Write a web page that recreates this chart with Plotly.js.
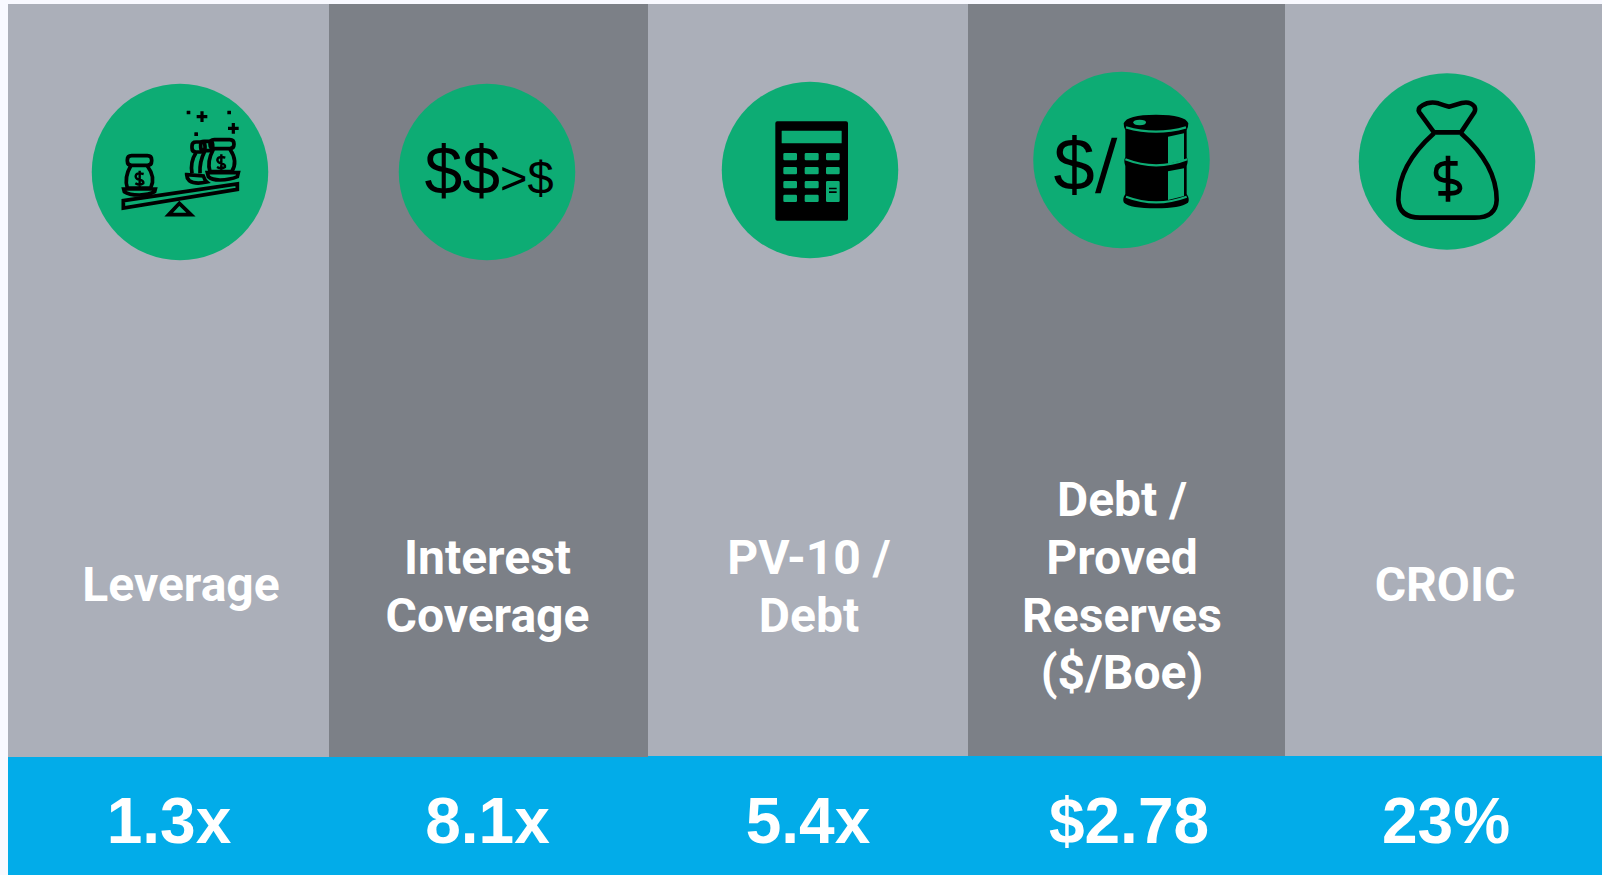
<!DOCTYPE html>
<html><head><meta charset="utf-8">
<script src="https://cdn.plot.ly/plotly-3.0.1.min.js"></script>
<style>html,body{margin:0;padding:0;background:#f8f9ff;overflow:hidden}#c{width:1602px;height:875px}</style>
</head><body><div id="c"></div>
<script>
// ---- content ----
const categoryLines = [["Leverage"],["Interest","Coverage"],["PV-10 /","Debt"],["Debt /","Proved","Reserves","($/Boe)"],["CROIC"]];
const valueLabels = ["1.3x","8.1x","5.4x","$2.78","23%"];

// ---- layout geometry ----
const edges = [8,329,648,968,1285,1602];
const panelBottoms = [757,757,756,756,756];
const labelX = [181,487.5,809,1122,1445];
const labelLineY = [[589],[561.5,619.5],[561.5,619.5],[504,561.5,619.5,676.5],[589]];
const valueX = [169,487.5,808,1129,1446];
const circleX = [180,487,810,1121.5,1447];
const circleY = [172,172,170,160,161.5];

const LIGHT='#abafb9', DARK='#7c8087', BLUE='#02ace9', GREEN='#0dac74';
const mids = edges.slice(0,-1).map((e,i)=>(e+edges[i+1])/2);
const widths = edges.slice(0,-1).map((e,i)=>edges[i+1]-e);

const lx=[],ly=[],lt=[];
categoryLines.forEach((lines,i)=>lines.forEach((s,j)=>{lx.push(labelX[i]);ly.push(labelLineY[i][j]);lt.push(s);}));

const panels = {type:'bar',x:mids,width:widths,base:mids.map(()=>4),y:panelBottoms.map(b=>b-4),
  marker:{color:[LIGHT,DARK,LIGHT,DARK,LIGHT],line:{width:0}},hoverinfo:'skip',showlegend:false};
const strip = {type:'bar',x:mids,width:widths,base:panelBottoms,y:panelBottoms.map(b=>875-b),
  marker:{color:BLUE,line:{width:0}},hoverinfo:'skip',showlegend:false};
const circles = {type:'scatter',mode:'markers',x:circleX,y:circleY,
  marker:{size:176.5,color:GREEN,line:{width:0}},hoverinfo:'skip',showlegend:false,cliponaxis:false};
const labels = {type:'scatter',mode:'text',x:lx,y:ly,text:lt,textposition:'middle center',
  textfont:{family:'Roboto',size:48,color:'#ffffff',weight:700},hoverinfo:'skip',showlegend:false,cliponaxis:false};
const values = {type:'scatter',mode:'text',x:valueX,y:valueX.map(()=>826.5),text:valueLabels,textposition:'middle center',
  textfont:{family:'Liberation Sans',size:64,color:'#ffffff',weight:700},hoverinfo:'skip',showlegend:false,cliponaxis:false};
const iconText = {type:'scatter',mode:'text',x:[489,1074],y:[175,171],
  text:['<span style="font-size:68px">$$</span><span style="font-size:47px">&gt;$</span>','$'],
  textposition:'middle center',textfont:{family:'Liberation Sans',size:74,color:'#000000'},
  hoverinfo:'skip',showlegend:false,cliponaxis:false};

// ---- icon outlines, drawn in 3x local coordinates ----
const tp=(d,ox,oy)=>d.replace(/(-?\d+\.?\d*)\s+(-?\d+\.?\d*)/g,(m,a,b)=>(ox+a/3).toFixed(2)+' '+(oy+b/3).toFixed(2));
const rr=(x0,y0,x1,y1,r)=>`M${x0+r} ${y0} L${x1-r} ${y0} Q${x1} ${y0} ${x1} ${y0+r} L${x1} ${y1-r} Q${x1} ${y1} ${x1-r} ${y1} L${x0+r} ${y1} Q${x0} ${y1} ${x0} ${y1-r} L${x0} ${y0+r} Q${x0} ${y0} ${x0+r} ${y0} Z`;
const shapes=[];
const add=(d,o,opt)=>shapes.push(Object.assign({type:'path',xref:'x',yref:'y',layer:'above',path:tp(d,o[0],o[1]),line:{width:0}},opt));
const stroke=(d,o,w,c)=>add(d,o,{line:{color:c||'#000',width:w},fillcolor:'rgba(0,0,0,0)'});
const fill=(d,o,c)=>add(d,o,{fillcolor:c||'#000'});

// scale with money bags
const L=[90,90];
const W=3.7;
const dollar=(x,y)=>`M${x+12} ${y-14} Q${x-12} ${y-20} ${x-12} ${y-6} Q${x-10} ${y+2} ${x} ${y+3} Q${x+13} ${y+6} ${x+11} ${y+14} Q${x} ${y+22} ${x-13} ${y+14} M${x} ${y-24} L${x} ${y+26}`;
stroke('M100 332 L442 282 L442 298 L100 354 Z',L,W);
stroke('M268 340 L303 374 L236 374 Z',L,W);
// left bag
stroke(rr(112,197,185,226,13),L,W);
stroke('M122 228 Q102 262 112 294 L182 294 Q198 262 172 228',L,W);
stroke(dollar(149,266),L,2.4);
stroke('M101 297 L196 297 L194 305 Q178 315 148 315 Q116 315 103 305 Z',L,W);
// right bags
stroke(rr(306,156,345,186,12),L,W);
stroke('M318 188 Q300 215 306 250',L,W);
stroke(rr(332,154,368,182,10),L,W);
stroke('M344 184 Q328 215 330 250',L,W);
stroke(rr(360,149,432,176,13),L,W);
stroke('M370 178 Q350 215 360 245 L425 245 Q445 215 420 178',L,W);
stroke(dollar(394,217),L,2.4);
stroke('M290 254 L340 258 Q345 272 350 276 Q315 284 298 272 Q290 264 290 254 Z',L,W);
stroke('M352 248 L445 248 L442 260 Q420 270 390 270 Q365 270 355 260 Z',L,W);
// sparkles
fill(rr(290,62,301,73,1)+rr(412,62,423,73,1)+rr(313,127,324,138,1),L);
stroke('M336 64 L336 96 M320 80 L352 80 M430 99 L430 131 M414 115 L446 115',L,3.2);

// calculator
const C=[720,80];
let calc=rr(166,124,384,422,6)+rr(185,152,365,190,1);
[[190,231],[254,296],[318,359]].forEach((c,ci)=>[[219,241],[261,283],[303,325],[344,366]].forEach((r,ri)=>{
  if(ci===2&&ri>=2) return; calc+=rr(c[0],r[0],c[1],r[1],4);}));
calc+=rr(318,303,359,366,4);
fill(calc,C);
fill(rr(327,323,350,328,0)+rr(327,334,350,339,0),C);

// barrel
const B=[1030,70];
fill('M195 370 L245 203 L262 203 L212 370 Z',B);
fill('M281 160 Q290 134 378 134 Q466 134 475 160 Q475 172 470 180 L470 262 Q476 272 470 288 L470 372 Q480 388 474 398 Q450 415 378 415 Q300 415 282 398 Q276 388 286 372 L286 288 Q280 272 286 262 L286 180 Q281 172 281 160 Z',B);
fill('M310 157 Q310 149 329 149 Q348 149 348 157 Q348 166 329 166 Q310 166 310 157 Z',B,GREEN);
stroke('M288 172 Q378 198 468 172',B,2.2,GREEN);
stroke('M286 268 Q378 304 472 268',B,2.2,GREEN);
stroke('M288 380 Q378 414 470 380',B,2.2,GREEN);
fill('M414 200 L462 190 L462 270 L414 282 Z',B,GREEN);
fill('M414 304 L462 295 L462 378 L414 390 Z',B,GREEN);

// money bag
const M=[1360,75];
stroke('M222 172 L178 112 Q172 100 186 92 Q208 78 235 85 Q255 92 268 95 Q285 90 305 84 Q330 78 343 94 Q348 103 343 112 L303 172 Z',M,4.6);
stroke('M222 175 Q115 270 115 375 Q118 428 180 428 L345 428 Q408 428 410 375 Q410 270 303 175',M,4.6);
stroke('M293 265 L255 265 Q228 268 228 293 Q228 315 262 317 Q300 320 300 340 Q298 355 270 355 L235 355 M264 242 L264 380',M,4.6);

const layout={width:1602,height:875,margin:{l:0,r:0,t:0,b:0},paper_bgcolor:'#f8f9ff',plot_bgcolor:'#f8f9ff',
  xaxis:{range:[0,1602],visible:false,fixedrange:true},yaxis:{range:[875,0],visible:false,fixedrange:true},
  barmode:'overlay',showlegend:false,shapes:shapes};
Plotly.newPlot('c',[panels,strip,circles,iconText,labels,values],layout,{displayModeBar:false,staticPlot:true});
</script></body></html>
